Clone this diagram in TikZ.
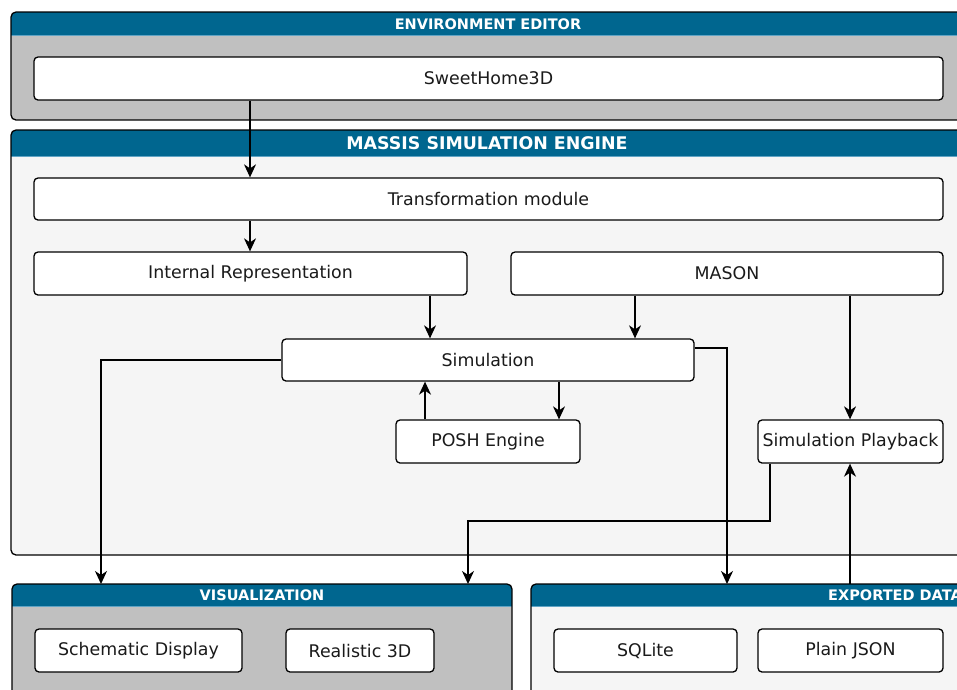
\documentclass[tikz,border=0pt]{standalone}
\usepackage{fontspec}
\setmainfont{DejaVu Sans}
\usetikzlibrary{arrows.meta}
\definecolor{hdr}{HTML}{00668F}
\definecolor{hdrline}{HTML}{5FA3C4}
\definecolor{grayb}{HTML}{C0C0C0}
\definecolor{lightb}{HTML}{F5F5F5}
\definecolor{txt}{HTML}{1A1A1A}
\newcommand\ctrbox[9]{%
  \begin{scope}
    \clip[rounded corners=5pt] (#2,#3) rectangle (#4,#5);
    \fill[#7] (#2,#3) rectangle (#4,#5);
    \fill[hdr] (#2,#3) rectangle (#4,#6);
    \draw[hdrline, line width=0.8pt] (#2,#6) -- (#4,#6);
  \end{scope}
  \draw[frame] (#2,#3) rectangle (#4,#5);
  \node[inner sep=0pt, minimum width={#4-#2}, minimum height={#5-#3}] (#1) at ({(#2+#4)/2},{(#3+#5)/2}) {};
  #8{#9}%
}
\begin{document}
\begin{tikzpicture}[x=1pt,y=-1pt,
  box/.style={draw, line width=1.3pt, rounded corners=4pt, fill=white, inner sep=0pt,
    text=txt, font=\fontsize{17.4}{19}\selectfont},
  sz/.style 2 args={minimum width=#1pt, minimum height=#2pt},
  arr/.style={draw, line width=1.3pt, -{Stealth[length=13pt,width=12pt,inset=4pt]}},
  frame/.style={draw, line width=1.3pt, rounded corners=5pt},
  hdrsmall/.style={text=white, inner sep=0pt, font=\bfseries\fontsize{14.5}{16}\selectfont},
  hdrbig/.style={text=white, inner sep=0pt, font=\bfseries\fontsize{17.4}{19}\selectfont}]
\useasboundingbox (0,0) rectangle (957,689);
\clip (0,0) rectangle (957,689);

% containers
\ctrbox{env}{11}{12}{966}{120}{35}{grayb}{\node[hdrsmall] (envt) at (488,24)}{ENVIRONMENT EDITOR};
\ctrbox{massis}{11}{130}{966}{555}{156}{lightb}{\node[hdrbig] (massist) at (487,143.5)}{MASSIS SIMULATION ENGINE};
\ctrbox{vis}{12}{584}{512}{720}{606}{grayb}{\node[hdrsmall] (vist) at (262,595.5)}{VISUALIZATION};
\ctrbox{exp}{531}{584}{1300}{720}{606}{lightb}{\node[hdrsmall, anchor=west] (expt) at (828,595.5)}{EXPORTED DATA};

% boxes
\node[box, sz={909}{43}] (sh3d) at (488.5,78.5) {SweetHome3D};
\node[box, sz={909}{42}] (trans) at (488.5,199) {Transformation module};
\node[box, sz={433}{43}] (irep) at (250.5,273.5) {Internal Representation};
\node[box, sz={432}{43}] (mason) at (727,273.5) {MASON};
\node[box, sz={412}{42}] (sim) at (488,360) {Simulation};
\node[box, sz={184}{43}] (posh) at (488,441.5) {POSH Engine};
\node[box, sz={185}{43}] (play) at (850.5,441.5) {Simulation Playback};
\node[box, sz={207}{43}] (schem) at (138.5,650.5) {Schematic Display};
\node[box, sz={148}{43}] (real) at (360,650.5) {Realistic 3D};
\node[box, sz={183}{43}] (sqlite) at (645.5,650.5) {SQLite};
\node[box, sz={185}{43}] (json) at (850.5,650.5) {Plain JSON};

% helper coordinates
\coordinate (xa) at (250,0);
\coordinate (xb) at (430,0);
\coordinate (xc) at (635,0);
\coordinate (xd) at (425,0);
\coordinate (xe) at (559,0);
\coordinate (xf) at (770,0);
\coordinate (xg) at (850,0);
\coordinate (y348) at (0,348);
\coordinate (vistop1) at (101,584);
\coordinate (vistop2) at (468,584);
\coordinate (turn) at (468,521);
\coordinate (exptop1) at (727,584);
\coordinate (exptop2) at (850,584);

% connectors
\draw[arr] (sh3d.south -| xa) -- (trans.north -| xa);
\draw[arr] (trans.south -| xa) -- (irep.north -| xa);
\draw[arr] (irep.south -| xb) -- (sim.north -| xb);
\draw[arr] (mason.south -| xc) -- (sim.north -| xc);
\draw[arr] (sim.west) -| (vistop1);
\draw[arr] (sim.east |- y348) -| (exptop1);
\draw[arr] (posh.north -| xd) -- (sim.south -| xd);
\draw[arr] (sim.south -| xe) -- (posh.north -| xe);
\draw[arr] (mason.south -| xg) -- (play.north -| xg);
\draw[arr] (exptop2) -- (play.south -| xg);
\draw[arr] (play.south -| xf) |- (turn) -- (vistop2);
\end{tikzpicture}
\end{document}
